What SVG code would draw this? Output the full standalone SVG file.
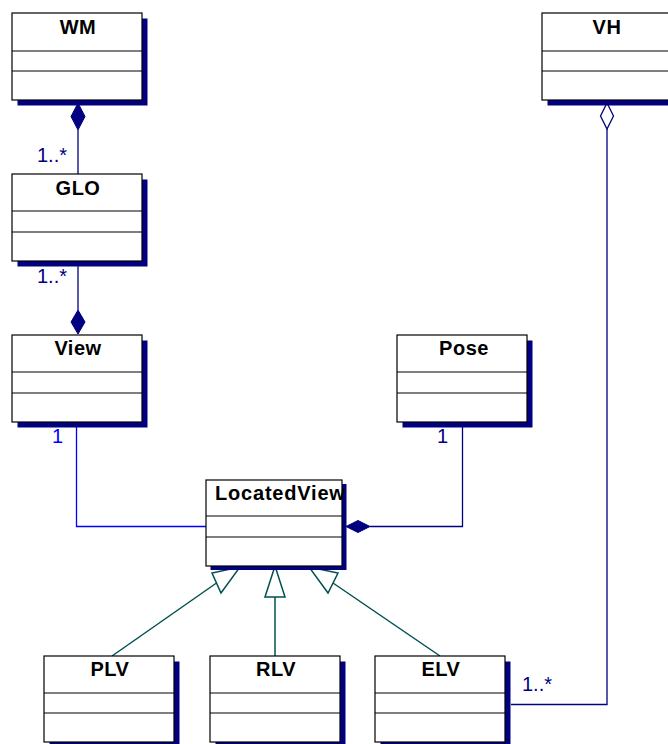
<svg xmlns="http://www.w3.org/2000/svg" width="668" height="744" viewBox="0 0 668 744">
<style>
.sh{fill:#000080;stroke:none}
.bx{fill:#fff;stroke:#000;stroke-width:1.2}
.dv{stroke:#000;stroke-width:1.2}
.nm{font-family:"Liberation Sans",Arial,sans-serif;font-weight:bold;font-size:20px;letter-spacing:0.5px;fill:#000;text-anchor:middle}
.lb{font-family:"Liberation Sans",Arial,sans-serif;font-size:20px;fill:#000080}
.nv{fill:none;stroke:#000080;stroke-width:1.3}
.bl{fill:none;stroke:#0000ff;stroke-width:1.3}
.gn{fill:none;stroke:#005050;stroke-width:1.5}
.tri{fill:#fff;stroke:#005050;stroke-width:1.5}
.fd{fill:#000080;stroke:#000080;stroke-width:1}
.od{fill:#fff;stroke:#000080;stroke-width:1.3}
</style>
<g id="connectors">
  <!-- WM - GLO -->
  <line class="nv" x1="78" y1="130" x2="78" y2="174"/>
  <polygon class="fd" points="78,103 85,116.5 78,130 71,116.5"/>
  <text class="lb" x="37" y="162">1..*</text>
  <!-- GLO - View -->
  <line class="nv" x1="78" y1="262" x2="78" y2="310"/>
  <polygon class="fd" points="78,310 85,322 78,334 71,322"/>
  <text class="lb" x="37" y="283">1..*</text>
  <!-- VH - ELV -->
  <polyline class="nv" points="607,129 607,704.5 511,704.5"/>
  <polygon class="od" points="607,103 613.5,116 607,129 600.5,116"/>
  <text class="lb" x="522" y="691">1..*</text>
  <!-- View - LocatedView -->
  <polyline class="bl" points="76.5,427 76.5,526.5 206,526.5"/>
  <text class="lb" x="52" y="443" style="fill:#0000ff">1</text>
  <!-- Pose - LocatedView -->
  <polyline class="nv" points="462.5,427 462.5,526.5 370,526.5"/>
  <polygon class="fd" points="346,526.5 358,520.5 370,526.5 358,532.5"/>
  <text class="lb" x="437" y="443">1</text>
  <!-- Generalizations -->
  <line class="gn" x1="112" y1="656" x2="216.5" y2="583"/>
  <polygon class="tri" points="240,567 212,573 221,593"/>
  <line class="gn" x1="275" y1="656" x2="275" y2="597"/>
  <polygon class="tri" points="275,566 265,597 285,597"/>
  <line class="gn" x1="440" y1="656" x2="333" y2="583"/>
  <polygon class="tri" points="309,567 338,573 328,593"/>
</g>
<g id="WM">
  <rect class="sh" x="17.5" y="18.5" width="130" height="87"/>
  <rect class="bx" x="12" y="13" width="130" height="87"/>
  <line class="dv" x1="12" y1="51" x2="142" y2="51"/>
  <line class="dv" x1="12" y1="71" x2="142" y2="71"/>
  <text class="nm" x="78" y="34">WM</text>
</g>
<g id="VH">
  <rect class="sh" x="547.5" y="18.5" width="130" height="87"/>
  <rect class="bx" x="542" y="13" width="130" height="87"/>
  <line class="dv" x1="542" y1="51" x2="672" y2="51"/>
  <line class="dv" x1="542" y1="71" x2="672" y2="71"/>
  <text class="nm" x="607" y="34">VH</text>
</g>
<g id="GLO">
  <rect class="sh" x="17.5" y="179.5" width="130" height="87"/>
  <rect class="bx" x="12" y="174" width="130" height="87"/>
  <line class="dv" x1="12" y1="211" x2="142" y2="211"/>
  <line class="dv" x1="12" y1="232" x2="142" y2="232"/>
  <text class="nm" x="78" y="195">GLO</text>
</g>
<g id="View">
  <rect class="sh" x="17.5" y="340.5" width="130" height="87"/>
  <rect class="bx" x="12" y="335" width="130" height="87"/>
  <line class="dv" x1="12" y1="372" x2="142" y2="372"/>
  <line class="dv" x1="12" y1="393" x2="142" y2="393"/>
  <text class="nm" x="78" y="355">View</text>
</g>
<g id="Pose">
  <rect class="sh" x="402.5" y="340.5" width="130" height="87"/>
  <rect class="bx" x="397" y="335" width="130" height="87"/>
  <line class="dv" x1="397" y1="372" x2="527" y2="372"/>
  <line class="dv" x1="397" y1="393" x2="527" y2="393"/>
  <text class="nm" x="464" y="355">Pose</text>
</g>
<g id="LocatedView">
  <rect class="sh" x="210.5" y="484" width="136" height="86"/>
  <rect class="bx" x="206" y="480" width="136" height="86"/>
  <line class="dv" x1="206" y1="516" x2="342" y2="516"/>
  <line class="dv" x1="206" y1="537" x2="342" y2="537"/>
  <text class="nm" x="215" y="500" style="text-anchor:start;letter-spacing:0.8px">LocatedView</text>
</g>
<g id="PLV">
  <rect class="sh" x="49.5" y="661.5" width="130" height="87"/>
  <rect class="bx" x="44" y="656" width="130" height="86"/>
  <line class="dv" x1="44" y1="693" x2="174" y2="693"/>
  <line class="dv" x1="44" y1="713" x2="174" y2="713"/>
  <text class="nm" x="110" y="676">PLV</text>
</g>
<g id="RLV">
  <rect class="sh" x="215.5" y="661.5" width="130" height="87"/>
  <rect class="bx" x="210" y="656" width="130" height="86"/>
  <line class="dv" x1="210" y1="693" x2="340" y2="693"/>
  <line class="dv" x1="210" y1="713" x2="340" y2="713"/>
  <text class="nm" x="276" y="676">RLV</text>
</g>
<g id="ELV">
  <rect class="sh" x="380.5" y="661.5" width="130" height="87"/>
  <rect class="bx" x="375" y="656" width="130" height="86"/>
  <line class="dv" x1="375" y1="693" x2="505" y2="693"/>
  <line class="dv" x1="375" y1="713" x2="505" y2="713"/>
  <text class="nm" x="441" y="676">ELV</text>
</g>
</svg>
